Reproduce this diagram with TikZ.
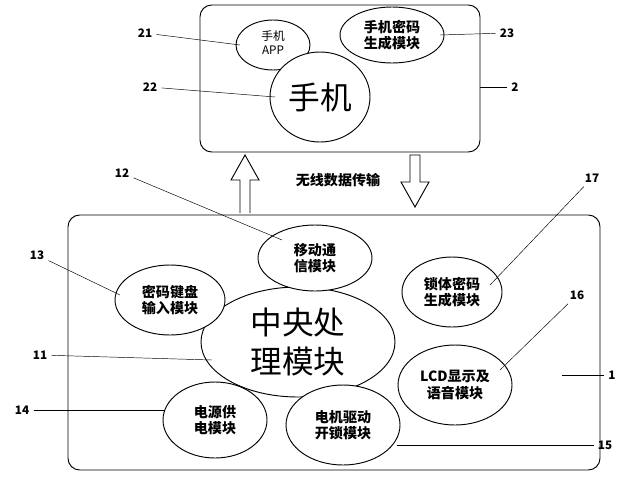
\documentclass[tikz,border=0pt]{standalone}
\usepackage{fontspec}
\setmainfont{Liberation Sans}
\newfontfamily\cjk{Noto Sans CJK SC}
\begin{document}
\begin{tikzpicture}[x=0.03cm,y=-0.03cm,thick,
  box/.style={draw,rounded corners=10pt},
  txt/.style={font=\cjk\bfseries\large,align=center,inner sep=0pt},
  num/.style={font=\cjk\bfseries\normalsize},
  lead/.style={thin}]
\useasboundingbox (0,0) rectangle (627,500);
% boxes
\draw[box] (200,5) rectangle (480,152);
\draw[box] (68,215) rectangle (600,470);
% phone modules
\draw (273,45) ellipse [x radius=37,y radius=25];
\node[font=\cjk\normalsize,align=center,inner sep=0pt] (app) at (273,43) {手机\\APP};
\draw (392,35) ellipse [x radius=52,y radius=28];
\node[txt] (pw) at (392,35) {手机密码\\生成模块};
\draw[fill=white] (320,97) ellipse [x radius=50,y radius=45];
\node[font=\cjk\fontsize{27}{30}\selectfont] (phone) at (320,97) {手机};
% lock modules
\draw[fill=white] (298,342) ellipse [x radius=97,y radius=55];
\node[font=\cjk\fontsize{27}{33}\selectfont,align=center] (cpu) at (298,342) {中央处\\理模块};
\foreach \x/\y/\rx/\ry in {315/258/57/33, 170/300/55/35, 452/292/50/35,
  455/385/57/40, 215/420/52/38, 343/425/57/40}
  \draw[fill=white] (\x,\y) ellipse [x radius=\rx,y radius=\ry];
\node[txt] (comm) at (315,258) {移动通\\信模块};
\node[txt] (kbd) at (170,300) {密码键盘\\输入模块};
\node[txt] (lock) at (452,292) {锁体密码\\生成模块};
\node[txt] (lcd) at (455,385) {LCD显示及\\语音模块};
\node[txt] (pwr) at (215,420) {电源供\\电模块};
\node[txt] (motor) at (343,425) {电机驱动\\开锁模块};
% wireless arrows
\draw (240,213) -- (240,180) -- (231,180) -- (245,155) -- (259,180) -- (250,180) -- (250,213);
\draw (410,155) -- (410,182) -- (401,182) -- (415,207) -- (429,182) -- (420,182) -- (420,155) -- cycle;
\node[txt] (wl) at (338,180) {无线数据传输};
% reference numbers
\node[num] (n21) at (145,33) {21};
\node[num] (n23) at (507,33) {23};
\node[num] (n22) at (150,87) {22};
\node[num] (n2) at (515,87) {2};
\node[num] (n12) at (122,173) {12};
\node[num] (n17) at (592,178) {17};
\node[num] (n13) at (37,255) {13};
\node[num] (n16) at (577,295) {16};
\node[num] (n11) at (40,355) {11};
\node[num] (n1) at (612,375) {1};
\node[num] (n14) at (22,410) {14};
\node[num] (n15) at (605,445) {15};
\coordinate (c21) at (240,45);
\coordinate (c23) at (440,35);
\coordinate (c22) at (275,97);
\coordinate (c2) at (480,87);
\coordinate (c12) at (282,240);
\coordinate (c17) at (490,285);
\coordinate (c13) at (120,295);
\coordinate (c16) at (500,370);
\coordinate (c11) at (212,360);
\coordinate (c1) at (562,375);
\coordinate (c14) at (165,410);
\coordinate (c15) at (397,445);
\foreach \a in {21,23,22,2,12,17,13,16,11,1,14,15}
  \draw[lead] (n\a) -- (c\a);
\end{tikzpicture}
\end{document}
